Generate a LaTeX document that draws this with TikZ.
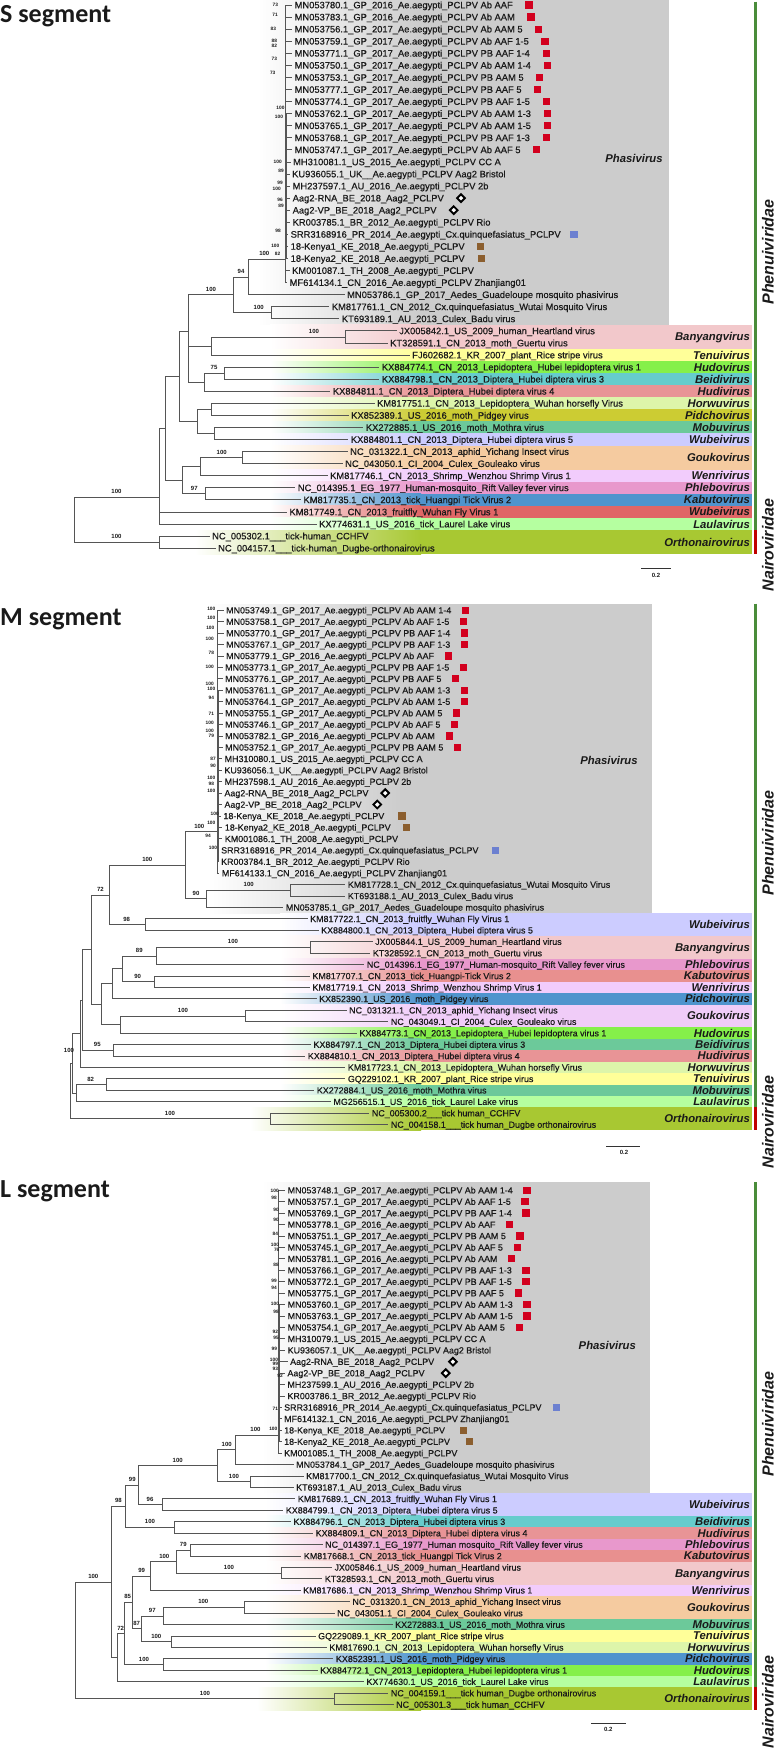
\documentclass[tikz,border=0pt]{standalone}
\usepackage{fontspec}
\setmainfont{Liberation Sans}
\newfontfamily\ttlfont{Carlito}
\newfontfamily\leaffont[FakeBold=0.5]{Liberation Sans}
\usetikzlibrary{calc,shapes.geometric}
\definecolor{cPhasi}{HTML}{CCCCCC}
\definecolor{cBany}{HTML}{F2C8CB}
\definecolor{cTenui}{HTML}{FFFF99}
\definecolor{cHudo}{HTML}{85F04A}
\definecolor{cBeidiT}{HTML}{66CCCC}
\definecolor{cHudi}{HTML}{E89496}
\definecolor{cHorwu}{HTML}{DDF5AA}
\definecolor{cPidY}{HTML}{CCCC33}
\definecolor{cPidB}{HTML}{4F94CD}
\definecolor{cMobu}{HTML}{6CC99A}
\definecolor{cWubL}{HTML}{CCCCFF}
\definecolor{cWubR}{HTML}{E06666}
\definecolor{cGoukoP}{HTML}{F5CBA0}
\definecolor{cGoukoV}{HTML}{F0CCF8}
\definecolor{cWenri}{HTML}{F2CCFC}
\definecolor{cPhlebo}{HTML}{E898CC}
\definecolor{cKabuB}{HTML}{4F94CD}
\definecolor{cKabuS}{HTML}{E8908F}
\definecolor{cLaula}{HTML}{B5FFA0}
\definecolor{cOrtho}{HTML}{A8C832}
\definecolor{treeC}{HTML}{555555}
\definecolor{txtC}{HTML}{1A1A1A}
\definecolor{mkRed}{HTML}{D2001E}
\definecolor{mkBlue}{HTML}{6C80D0}
\definecolor{mkBrown}{HTML}{8B5E2E}
\definecolor{famGreen}{HTML}{4A8C3A}
\definecolor{famRed}{HTML}{C00000}
\newcounter{bsc}
\newcommand\fS{\leaffont\fontsize{9.34}{10}\selectfont}
\newcommand\fM{\leaffont\fontsize{8.9}{10}\selectfont}
\tikzset{
 tr/.style={draw=treeC, line width=0.8pt},
 lfS/.style={anchor=west, inner xsep=2.5pt, inner ysep=0pt, text height=6.9pt, text depth=0.3pt, font=\fS, text=txtC},
 lfM/.style={anchor=west, inner xsep=2.5pt, inner ysep=0pt, text height=6.6pt, text depth=0.2pt, font=\fM, text=txtC},
 bsl/.style={font=\fontsize{6}{6}\selectfont\bfseries, inner sep=0pt, text=txtC},
 bst/.style={font=\fontsize{4.8}{5}\selectfont\bfseries, inner sep=0pt, text=txtC},
 gen/.style={anchor=east, inner sep=0pt, text height=8pt, text depth=0pt, font=\fontsize{11.3}{12}\selectfont\bfseries\itshape, text=txtC},
 phas/.style={inner sep=0pt, font=\fontsize{11.3}{12}\selectfont\bfseries\itshape, text=txtC},
 fam/.style={rotate=90, inner sep=0pt, font=\fontsize{16}{18}\selectfont\bfseries\itshape, text=txtC},
 ttl/.style={anchor=base west, inner sep=0pt, font=\ttlfont\fontsize{26}{28}\selectfont\bfseries, text=txtC},
 rsq/.style={fill=mkRed, minimum size=7.2pt, inner sep=0pt},
 bsq/.style={fill=mkBlue, minimum size=7.2pt, inner sep=0pt},
 nsq/.style={fill=mkBrown, minimum size=7.2pt, inner sep=0pt},
 dmk/.style={diamond, draw=black, line width=1.9pt, fill=white, minimum width=8.5pt, minimum height=8.5pt, inner sep=0pt},
 sbar/.style={draw=black!80, line width=0.9pt},
 sbt/.style={font=\fontsize{6}{6}\selectfont\bfseries, inner sep=0pt, text=txtC},
 famG/.style={draw=famGreen, line width=2.6pt},
 famR/.style={draw=famRed, line width=2.6pt},
 thk/.style={draw=treeC, line width=1.6pt},
}
\newcommand\lS[3]{\node[lfS] (s#2) at ({#1-2.5},{5+12.07*#2}) {#3};}
\newcommand\lM[3]{\node[lfM] (m#2) at ({#1-2.5},{610.2+11.43*#2}) {#3};}
\newcommand\lL[3]{\node[lfM] (l#2) at ({#1-2.5},{1190.2+11.43*#2}) {#3};}
\newcommand\tn[4]{\path let \p1=(#3), \p2=(#4) in ({#2pt},{0.5*\y1+0.5*\y2}) coordinate (#1);}
\newcommand\ed[2]{\draw[tr] (#1) |- (#2);}
\newcommand\bs[3]{\stepcounter{bsc}\node[bsl] (bs\arabic{bsc}) at (#1,#2) {#3};}
\newcommand\bt[3]{\stepcounter{bsc}\node[bst] (bt\arabic{bsc}) at (#1,#2) {#3};}
\newcommand\mk[3]{\node[#1] (#2mk) at ([xshift=#3pt]#2.east) {};}
\newcommand\band[7]{%
 \pgfmathsetmacro\byt{#1+#2*(#3-0.5)}%
 \pgfmathsetmacro\byb{#1+#2*(#4+0.5)}%
 \pgfmathsetmacro\bym{#1+#2*(#3+#4)/2}%
 \shade[left color=white,right color=#5] (#7,\byt) rectangle (421,\byb);%
 \fill[#5] (420,\byt) rectangle (752,\byb);%
 \stepcounter{bsc}\node[gen] (gn\arabic{bsc}) at (750,\bym) {#6};}
\begin{document}
\begin{tikzpicture}[x=1pt,y=-1pt]
\useasboundingbox (0,0) rectangle (775,1749);
%================= S panel =================
\shade[left color=white,right color=cPhasi] (258,-2) rectangle (421,324.8);
\fill[cPhasi] (420,-2) rectangle (669,324.8);
\band{5}{12.07}{27}{28}{cBany}{Banyangvirus}{270}
\band{5}{12.07}{29}{29}{cTenui}{Tenuivirus}{270}
\band{5}{12.07}{30}{30}{cHudo}{Hudovirus}{270}
\band{5}{12.07}{31}{31}{cBeidiT}{Beidivirus}{270}
\band{5}{12.07}{32}{32}{cHudi}{Hudivirus}{270}
\band{5}{12.07}{33}{33}{cHorwu}{Horwuvirus}{270}
\band{5}{12.07}{34}{34}{cPidY}{Pidchovirus}{270}
\band{5}{12.07}{35}{35}{cMobu}{Mobuvirus}{270}
\band{5}{12.07}{36}{36}{cWubL}{Wubeivirus}{270}
\band{5}{12.07}{37}{38}{cGoukoP}{Goukovirus}{270}
\band{5}{12.07}{39}{39}{cWenri}{Wenrivirus}{270}
\band{5}{12.07}{40}{40}{cPhlebo}{Phlebovirus}{270}
\band{5}{12.07}{41}{41}{cKabuB}{Kabutovirus}{270}
\band{5}{12.07}{42}{42}{cWubR}{Wubeivirus}{270}
\band{5}{12.07}{43}{43}{cLaula}{Laulavirus}{270}
\band{5}{12.07}{44}{45}{cOrtho}{Orthonairovirus}{195}
\node[phas] (phS) at (634,158.7) {Phasivirus};
\node[ttl] (tS) at (0,22) {S segment};
\lS{294.5}{0}{MN053780.1\_GP\_2016\_Ae.aegypti\_PCLPV Ab AAF}
\lS{294.5}{1}{MN053783.1\_GP\_2016\_Ae.aegypti\_PCLPV Ab AAM}
\lS{294.5}{2}{MN053756.1\_GP\_2017\_Ae.aegypti\_PCLPV Ab AAM 5}
\lS{294.5}{3}{MN053759.1\_GP\_2017\_Ae.aegypti\_PCLPV Ab AAF 1-5}
\lS{294.5}{4}{MN053771.1\_GP\_2017\_Ae.aegypti\_PCLPV PB AAF 1-4}
\lS{294.5}{5}{MN053750.1\_GP\_2017\_Ae.aegypti\_PCLPV Ab AAM 1-4}
\lS{294.5}{6}{MN053753.1\_GP\_2017\_Ae.aegypti\_PCLPV PB AAM 5}
\lS{294.5}{7}{MN053777.1\_GP\_2017\_Ae.aegypti\_PCLPV PB AAF 5}
\lS{294.5}{8}{MN053774.1\_GP\_2017\_Ae.aegypti\_PCLPV PB AAF 1-5}
\lS{294.5}{9}{MN053762.1\_GP\_2017\_Ae.aegypti\_PCLPV Ab AAM 1-3}
\lS{294.5}{10}{MN053765.1\_GP\_2017\_Ae.aegypti\_PCLPV Ab AAM 1-5}
\lS{294.5}{11}{MN053768.1\_GP\_2017\_Ae.aegypti\_PCLPV PB AAF 1-3}
\lS{294.5}{12}{MN053747.1\_GP\_2017\_Ae.aegypti\_PCLPV Ab AAF 5}
\lS{293}{13}{MH310081.1\_US\_2015\_Ae.aegypti\_PCLPV CC A}
\lS{292}{14}{KU936055.1\_UK\_\_Ae.aegypti\_PCLPV Aag2 Bristol}
\lS{292.5}{15}{MH237597.1\_AU\_2016\_Ae.aegypti\_PCLPV 2b}
\lS{292.5}{16}{Aag2-RNA\_BE\_2018\_Aag2\_PCLPV}
\lS{292.5}{17}{Aag2-VP\_BE\_2018\_Aag2\_PCLPV}
\lS{292.5}{18}{KR003785.1\_BR\_2012\_Ae.aegypti\_PCLPV Rio}
\lS{290.5}{19}{SRR3168916\_PR\_2014\_Ae.aegypti\_Cx.quinquefasiatus\_PCLPV}
\lS{290.5}{20}{18-Kenya1\_KE\_2018\_Ae.aegypti\_PCLPV}
\lS{290.5}{21}{18-Kenya2\_KE\_2018\_Ae.aegypti\_PCLPV}
\lS{292}{22}{KM001087.1\_TH\_2008\_Ae.aegypti\_PCLPV}
\lS{289.5}{23}{MF614134.1\_CN\_2016\_Ae.aegypti\_PCLPV Zhanjiang01}
\lS{347}{24}{MN053786.1\_GP\_2017\_Aedes\_Guadeloupe mosquito phasivirus}
\lS{331.7}{25}{KM817761.1\_CN\_2012\_Cx.quinquefasiatus\_Wutai Mosquito Virus}
\lS{341.7}{26}{KT693189.1\_AU\_2013\_Culex\_Badu virus}
\lS{399}{27}{JX005842.1\_US\_2009\_human\_Heartland virus}
\lS{390}{28}{KT328591.1\_CN\_2013\_moth\_Guertu virus}
\lS{412}{29}{FJ602682.1\_KR\_2007\_plant\_Rice stripe virus}
\lS{381.7}{30}{KX884774.1\_CN\_2013\_Lepidoptera\_Hubei lepidoptera virus 1}
\lS{381.7}{31}{KX884798.1\_CN\_2013\_Diptera\_Hubei diptera virus 3}
\lS{332.7}{32}{KX884811.1\_CN\_2013\_Diptera\_Hubei diptera virus 4}
\lS{377}{33}{KM817751.1\_CN\_2013\_Lepidoptera\_Wuhan horsefly Virus}
\lS{351}{34}{KX852389.1\_US\_2016\_moth\_Pidgey virus}
\lS{365.7}{35}{KX272885.1\_US\_2016\_moth\_Mothra virus}
\lS{350.7}{36}{KX884801.1\_CN\_2013\_Diptera\_Hubei diptera virus 5}
\lS{350}{37}{NC\_031322.1\_CN\_2013\_aphid\_Yichang Insect virus}
\lS{345}{38}{NC\_043050.1\_CI\_2004\_Culex\_Gouleako virus}
\lS{330}{39}{KM817746.1\_CN\_2013\_Shrimp\_Wenzhou Shrimp Virus 1}
\lS{297.7}{40}{NC\_014395.1\_EG\_1977\_Human-mosquito\_Rift Valley fever virus}
\lS{303.3}{41}{KM817735.1\_CN\_2013\_tick\_Huangpi Tick Virus 2}
\lS{289.3}{42}{KM817749.1\_CN\_2013\_fruitfly\_Wuhan Fly Virus 1}
\lS{319}{43}{KX774631.1\_US\_2016\_tick\_Laurel Lake virus}
\lS{212}{44}{NC\_005302.1\_\_\_tick-human\_CCHFV}
\lS{218}{45}{NC\_004157.1\_\_\_tick-human\_Dugbe-orthonairovirus}
% S tree
\coordinate (sCx) at (285,0);
\coordinate (sCx2) at (286.6,0);
\coordinate (sPc) at (285,259.3);
\draw[tr] (s0.west -| sCx) -- (s23.west -| sCx);
\draw[thk] (s9.west -| sCx2) -- (s21.west -| sCx2);
\foreach \i in {0,...,23} {\draw[tr] (s\i.west -| sCx) -- (s\i.west);}
\tn{sQ}{248.3}{sPc}{s24.west}
\tn{sS}{271}{s25.west}{s26.west}
\tn{sR1}{233.3}{sQ}{sS}
\tn{sBan}{345}{s27.west}{s28.west}
\tn{sU}{211.7}{sBan}{s29.west}
\tn{sX}{224}{s30.west}{s31.west}
\tn{sV}{204}{sX}{s32.west}
\coordinate (sT) at (188.3,331);
\tn{sY1}{211.7}{s33.west}{s34.west}
\tn{sY2}{214}{s35.west}{s36.west}
\tn{sY}{197.3}{sY1}{sY2}
\tn{sW}{179}{sT}{sY}
\tn{sGo}{242.7}{s37.west}{s38.west}
\tn{sH}{200}{sGo}{s39.west}
\tn{sI}{205.7}{s40.west}{s41.west}
\tn{sG}{182.7}{sH}{sI}
\tn{sZ}{165.3}{sW}{sG}
\coordinate (sA) at (159,497);
\tn{sN}{159.3}{s44.west}{s45.west}
\tn{sRoot}{74}{sA}{sN}
\ed{sQ}{sPc}\ed{sQ}{s24.west}
\ed{sS}{s25.west}\ed{sS}{s26.west}
\ed{sR1}{sQ}\ed{sR1}{sS}
\ed{sBan}{s27.west}\ed{sBan}{s28.west}
\ed{sU}{sBan}\ed{sU}{s29.west}
\ed{sX}{s30.west}\ed{sX}{s31.west}
\ed{sV}{sX}\ed{sV}{s32.west}
\ed{sT}{sR1}\ed{sT}{sU}\ed{sT}{sV}
\ed{sY1}{s33.west}\ed{sY1}{s34.west}
\ed{sY2}{s35.west}\ed{sY2}{s36.west}
\ed{sY}{sY1}\ed{sY}{sY2}
\ed{sW}{sT}\ed{sW}{sY}
\ed{sGo}{s37.west}\ed{sGo}{s38.west}
\ed{sH}{sGo}\ed{sH}{s39.west}
\ed{sI}{s40.west}\ed{sI}{s41.west}
\ed{sG}{sH}\ed{sG}{sI}
\ed{sZ}{sW}\ed{sZ}{sG}
\ed{sA}{sZ}\ed{sA}{s42.west}\ed{sA}{s43.west}
\ed{sN}{s44.west}\ed{sN}{s45.west}
\ed{sRoot}{sA}\ed{sRoot}{sN}
% S support values
\bs{116.5}{491.5}{100}\bs{116.5}{536.6}{100}\bs{211}{289.4}{100}\bs{241}{271.3}{94}
\bs{264.3}{253.8}{100}\bs{258.7}{307.5}{100}\bs{314}{331.4}{100}\bs{214}{367.5}{75}
\bs{221.7}{452}{100}\bs{194.3}{488.3}{97}
\bt{275.3}{5.2}{73}\bt{275}{14.8}{71}\bt{273.3}{28.9}{83}\bt{274.3}{40.7}{88}\bt{274.3}{46.3}{82}
\bt{274.3}{59.3}{73}\bt{272.7}{73.3}{73}\bt{280.5}{107.4}{100}\bt{279}{116.7}{100}\bt{277.7}{162.2}{100}
\bt{281}{171.1}{89}\bt{280}{182.6}{99}\bt{276.7}{188.9}{100}\bt{280}{200}{96}\bt{281}{205.6}{89}
\bt{278}{230.4}{98}\bt{275.3}{246.3}{100}\bt{277.5}{254}{82}
% S markers
\foreach \i in {0,...,12} {\mk{rsq}{s\i}{13.5}}
\mk{dmk}{s16}{14.5}\mk{dmk}{s17}{14.5}\mk{bsq}{s19}{10.5}\mk{nsq}{s20}{13}\mk{nsq}{s21}{14.5}
% S family bars, labels, scale
\coordinate (fgS1) at (755.5,1.5);\coordinate (fgS2) at (755.5,530);\coordinate (frS2) at (755.5,554);
\draw[famG] (fgS1) -- (fgS2);\draw[famR] (fgS2) -- (frS2);
\node[fam] (fpS) at (768,252) {Phenuiviridae};
\node[fam] (fnS) at (768,545) {Nairoviridae};
\coordinate (scS1) at (641,568.7);\coordinate (scS2) at (671,568.7);
\draw[sbar] (scS1) -- (scS2);
\node[sbt] (scSt) at (656,575.5) {0.2};
%================= M panel =================
\shade[left color=white,right color=cPhasi] (208,604.2) rectangle (401,913.1);
\fill[cPhasi] (400,604.2) rectangle (651.7,913.1);
\band{610.2}{11.43}{27}{28}{cWubL}{Wubeivirus}{280}
\band{610.2}{11.43}{29}{30}{cBany}{Banyangvirus}{280}
\band{610.2}{11.43}{31}{31}{cPhlebo}{Phlebovirus}{280}
\band{610.2}{11.43}{32}{32}{cKabuS}{Kabutovirus}{280}
\band{610.2}{11.43}{33}{33}{cWenri}{Wenrivirus}{280}
\band{610.2}{11.43}{34}{34}{cPidB}{Pidchovirus}{280}
\band{610.2}{11.43}{35}{36}{cGoukoV}{Goukovirus}{280}
\band{610.2}{11.43}{37}{37}{cHudo}{Hudovirus}{280}
\band{610.2}{11.43}{38}{38}{cMobu}{Beidivirus}{280}
\band{610.2}{11.43}{39}{39}{cHudi}{Hudivirus}{280}
\band{610.2}{11.43}{40}{40}{cHorwu}{Horwuvirus}{280}
\band{610.2}{11.43}{41}{41}{cTenui}{Tenuivirus}{280}
\band{610.2}{11.43}{42}{42}{cMobu}{Mobuvirus}{280}
\band{610.2}{11.43}{43}{43}{cLaula}{Laulavirus}{280}
\band{610.2}{11.43}{44}{45}{cOrtho}{Orthonairovirus}{250}
\node[phas] (phM) at (609,760.3) {Phasivirus};
\node[ttl] (tM) at (0,625.5) {M segment};
\lM{226}{0}{MN053749.1\_GP\_2017\_Ae.aegypti\_PCLPV Ab AAM 1-4}
\lM{226}{1}{MN053758.1\_GP\_2017\_Ae.aegypti\_PCLPV Ab AAF 1-5}
\lM{226}{2}{MN053770.1\_GP\_2017\_Ae.aegypti\_PCLPV PB AAF 1-4}
\lM{226}{3}{MN053767.1\_GP\_2017\_Ae.aegypti\_PCLPV PB AAF 1-3}
\lM{226}{4}{MN053779.1\_GP\_2016\_Ae.aegypti\_PCLPV Ab AAF}
\lM{225}{5}{MN053773.1\_GP\_2017\_Ae.aegypti\_PCLPV PB AAF 1-5}
\lM{225}{6}{MN053776.1\_GP\_2017\_Ae.aegypti\_PCLPV PB AAF 5}
\lM{225}{7}{MN053761.1\_GP\_2017\_Ae.aegypti\_PCLPV Ab AAM 1-3}
\lM{225}{8}{MN053764.1\_GP\_2017\_Ae.aegypti\_PCLPV Ab AAM 1-5}
\lM{225}{9}{MN053755.1\_GP\_2017\_Ae.aegypti\_PCLPV Ab AAM 5}
\lM{225}{10}{MN053746.1\_GP\_2017\_Ae.aegypti\_PCLPV Ab AAF 5}
\lM{225}{11}{MN053782.1\_GP\_2016\_Ae.aegypti\_PCLPV Ab AAM}
\lM{225}{12}{MN053752.1\_GP\_2017\_Ae.aegypti\_PCLPV PB AAM 5}
\lM{224.5}{13}{MH310080.1\_US\_2015\_Ae.aegypti\_PCLPV CC A}
\lM{224.3}{14}{KU936056.1\_UK\_\_Ae.aegypti\_PCLPV Aag2 Bristol}
\lM{224.5}{15}{MH237598.1\_AU\_2016\_Ae.aegypti\_PCLPV 2b}
\lM{224.3}{16}{Aag2-RNA\_BE\_2018\_Aag2\_PCLPV}
\lM{224.3}{17}{Aag2-VP\_BE\_2018\_Aag2\_PCLPV}
\lM{223.3}{18}{18-Kenya\_KE\_2018\_Ae.aegypti\_PCLPV}
\lM{224.7}{19}{18-Kenya2\_KE\_2018\_Ae.aegypti\_PCLPV}
\lM{224.7}{20}{KM001086.1\_TH\_2008\_Ae.aegypti\_PCLPV}
\lM{221}{21}{SRR3168916\_PR\_2014\_Ae.aegypti\_Cx.quinquefasiatus\_PCLPV}
\lM{221}{22}{KR003784.1\_BR\_2012\_Ae.aegypti\_PCLPV Rio}
\lM{221.7}{23}{MF614133.1\_CN\_2016\_Ae.aegypti\_PCLPV Zhanjiang01}
\lM{347.7}{24}{KM817728.1\_CN\_2012\_Cx.quinquefasiatus\_Wutai Mosquito Virus}
\lM{347.7}{25}{KT693188.1\_AU\_2013\_Culex\_Badu virus}
\lM{285.7}{26}{MN053785.1\_GP\_2017\_Aedes\_Guadeloupe mosquito phasivirus}
\lM{310}{27}{KM817722.1\_CN\_2013\_fruitfly\_Wuhan Fly Virus 1}
\lM{321}{28}{KX884800.1\_CN\_2013\_Diptera\_Hubei diptera virus 5}
\lM{375}{29}{JX005844.1\_US\_2009\_human\_Heartland virus}
\lM{372.7}{30}{KT328592.1\_CN\_2013\_moth\_Guertu virus}
\lM{366.7}{31}{NC\_014396.1\_EG\_1977\_Human-mosquito\_Rift Valley fever virus}
\lM{312.3}{32}{KM817707.1\_CN\_2013\_tick\_Huangpi-Tick Virus 2}
\lM{312.3}{33}{KM817719.1\_CN\_2013\_Shrimp\_Wenzhou Shrimp Virus 1}
\lM{319}{34}{KX852390.1\_US\_2016\_moth\_Pidgey virus}
\lM{349}{35}{NC\_031321.1\_CN\_2013\_aphid\_Yichang Insect virus}
\lM{390.7}{36}{NC\_043049.1\_CI\_2004\_Culex\_Gouleako virus}
\lM{359.3}{37}{KX884773.1\_CN\_2013\_Lepidoptera\_Hubei lepidoptera virus 1}
\lM{313.3}{38}{KX884797.1\_CN\_2013\_Diptera\_Hubei diptera virus 3}
\lM{307.7}{39}{KX884810.1\_CN\_2013\_Diptera\_Hubei diptera virus 4}
\lM{347.7}{40}{KM817723.1\_CN\_2013\_Lepidoptera\_Wuhan horsefly Virus}
\lM{347.7}{41}{GQ229102.1\_KR\_2007\_plant\_Rice stripe virus}
\lM{316.7}{42}{KX272884.1\_US\_2016\_moth\_Mothra virus}
\lM{333.3}{43}{MG256515.1\_US\_2016\_tick\_Laurel Lake virus}
\lM{371.7}{44}{NC\_005300.2\_\_\_tick human\_CCHFV}
\lM{390.7}{45}{NC\_004158.1\_\_\_tick human\_Dugbe orthonairovirus}
% M tree
\coordinate (mCx) at (217,0);
\coordinate (mCx2) at (218.6,0);
\coordinate (mPc) at (217,831.7);
\draw[tr] (m0.west -| mCx) -- (m23.west -| mCx);
\draw[thk] (m7.west -| mCx2) -- (m22.west -| mCx2);
\foreach \i in {0,...,23} {\draw[tr] (m\i.west -| mCx) -- (m\i.west);}
\tn{mWu}{290}{m24.west}{m25.west}
\tn{m90}{206.7}{mWu}{m26.west}
\tn{mQ}{185}{mPc}{m90}
\tn{m98}{145}{m27.west}{m28.west}
\tn{mR}{109.3}{mQ}{m98}
\tn{mBan}{310}{m29.west}{m30.west}
\tn{m89}{156.7}{mBan}{m31.west}
\tn{m90b}{154.3}{m32.west}{m33.west}
\tn{mA1}{122}{m89}{m90b}
\tn{mA2}{112.7}{mA1}{m34.west}
\tn{mGo}{245}{m35.west}{m36.west}
\tn{mB1}{120.7}{mGo}{m37.west}
\tn{mT}{101}{mA2}{mB1}
\tn{mS}{91.7}{mR}{mT}
\tn{m95}{113.3}{m38.west}{m39.west}
\tn{mN1}{82.7}{mS}{m95}
\tn{mN2}{80.7}{mN1}{m40.west}
\tn{m82}{106}{m41.west}{m42.west}
\tn{mN3}{76}{m82}{m43.west}
\tn{mN4}{72}{mN2}{mN3}
\tn{mNa}{270.7}{m44.west}{m45.west}
\tn{mRoot}{70}{mN4}{mNa}
\ed{mWu}{m24.west}\ed{mWu}{m25.west}
\ed{m90}{mWu}\ed{m90}{m26.west}
\ed{mQ}{mPc}\ed{mQ}{m90}
\ed{m98}{m27.west}\ed{m98}{m28.west}
\ed{mR}{mQ}\ed{mR}{m98}
\ed{mBan}{m29.west}\ed{mBan}{m30.west}
\ed{m89}{mBan}\ed{m89}{m31.west}
\ed{m90b}{m32.west}\ed{m90b}{m33.west}
\ed{mA1}{m89}\ed{mA1}{m90b}
\ed{mA2}{mA1}\ed{mA2}{m34.west}
\ed{mGo}{m35.west}\ed{mGo}{m36.west}
\ed{mB1}{mGo}\ed{mB1}{m37.west}
\ed{mT}{mA2}\ed{mT}{mB1}
\ed{mS}{mR}\ed{mS}{mT}
\ed{m95}{m38.west}\ed{m95}{m39.west}
\ed{mN1}{mS}\ed{mN1}{m95}
\ed{mN2}{mN1}\ed{mN2}{m40.west}
\ed{m82}{m41.west}\ed{m82}{m42.west}
\ed{mN3}{m82}\ed{mN3}{m43.west}
\ed{mN4}{mN2}\ed{mN4}{mN3}
\ed{mNa}{m44.west}\ed{mNa}{m45.west}
\ed{mRoot}{mN4}\ed{mRoot}{mNa}
% M support values
\bs{147.3}{859.8}{100}\bs{100.5}{889.4}{72}\bs{126.7}{919}{98}\bs{199.3}{826.2}{100}
\bs{196}{893.3}{90}\bs{248.7}{884.7}{100}\bs{139.3}{950.5}{89}\bs{233}{941.9}{100}
\bs{137.7}{976.2}{90}\bs{183}{1010.4}{100}\bs{97.3}{1044.7}{95}\bs{90.7}{1079}{82}
\bs{69}{1050}{100}\bs{170}{1113.3}{100}
\bt{211.3}{608.9}{100}\bt{211.3}{618.1}{100}\bt{210.3}{628.1}{100}\bt{209.7}{638.5}{100}
\bt{211.3}{653}{78}\bt{209.7}{667}{100}\bt{209.7}{683.7}{100}\bt{211.3}{689.3}{100}
\bt{211.3}{697.4}{94}\bt{211.3}{714}{71}\bt{209.7}{723.3}{100}\bt{209.7}{730.7}{100}
\bt{211.3}{735.6}{79}\bt{213}{758.5}{87}\bt{213}{765.9}{90}\bt{211.3}{778.1}{100}
\bt{211.3}{784}{98}\bt{211.3}{791.1}{100}\bt{214.7}{814.1}{100}\bt{211.3}{822.6}{100}
\bt{208}{835.6}{94}\bt{213}{847.4}{100}
% M markers
\foreach \i in {0,...,12} {\mk{rsq}{m\i}{11.5}}
\mk{dmk}{m16}{14}\mk{dmk}{m17}{13}\mk{nsq}{m18}{15}\mk{nsq}{m19}{13.5}\mk{bsq}{m21}{14}
% M family
\coordinate (fgM1) at (755.5,603.5);\coordinate (fgM2) at (755.5,1107.4);\coordinate (frM2) at (755.5,1130.2);
\draw[famG] (fgM1) -- (fgM2);\draw[famR] (fgM2) -- (frM2);
\node[fam] (fpM) at (768,843) {Phenuiviridae};
\node[fam] (fnM) at (768,1122) {Nairoviridae};
\coordinate (scM1) at (606,1146.7);\coordinate (scM2) at (640,1146.7);
\draw[sbar] (scM1) -- (scM2);
\node[sbt] (scMt) at (624,1152.7) {0.2};
%================= L panel =================
\shade[left color=white,right color=cPhasi] (262,1182) rectangle (421,1493.1);
\fill[cPhasi] (420,1182) rectangle (650,1493.1);
\band{1190.2}{11.43}{27}{28}{cWubL}{Wubeivirus}{265}
\band{1190.2}{11.43}{29}{29}{cBeidiT}{Beidivirus}{265}
\band{1190.2}{11.43}{30}{30}{cHudi}{Hudivirus}{265}
\band{1190.2}{11.43}{31}{31}{cPhlebo}{Phlebovirus}{265}
\band{1190.2}{11.43}{32}{32}{cKabuS}{Kabutovirus}{265}
\band{1190.2}{11.43}{33}{34}{cBany}{Banyangvirus}{265}
\band{1190.2}{11.43}{35}{35}{cWenri}{Wenrivirus}{265}
\band{1190.2}{11.43}{36}{37}{cGoukoP}{Goukovirus}{265}
\band{1190.2}{11.43}{38}{38}{cMobu}{Mobuvirus}{265}
\band{1190.2}{11.43}{39}{39}{cTenui}{Tenuivirus}{265}
\band{1190.2}{11.43}{40}{40}{cHorwu}{Horwuvirus}{265}
\band{1190.2}{11.43}{41}{41}{cPidB}{Pidchovirus}{265}
\band{1190.2}{11.43}{42}{42}{cHudo}{Hudovirus}{265}
\band{1190.2}{11.43}{43}{43}{cLaula}{Laulavirus}{265}
\band{1190.2}{11.43}{44}{45}{cOrtho}{Orthonairovirus}{257}
\node[phas] (phL) at (607.3,1345) {Phasivirus};
\node[ttl] (tL) at (0,1197) {L segment};
\lL{287.5}{0}{MN053748.1\_GP\_2017\_Ae.aegypti\_PCLPV Ab AAM 1-4}
\lL{287.5}{1}{MN053757.1\_GP\_2017\_Ae.aegypti\_PCLPV Ab AAF 1-5}
\lL{287.5}{2}{MN053769.1\_GP\_2017\_Ae.aegypti\_PCLPV PB AAF 1-4}
\lL{287.5}{3}{MN053778.1\_GP\_2016\_Ae.aegypti\_PCLPV Ab AAF}
\lL{287.5}{4}{MN053751.1\_GP\_2017\_Ae.aegypti\_PCLPV PB AAM 5}
\lL{287.5}{5}{MN053745.1\_GP\_2017\_Ae.aegypti\_PCLPV Ab AAF 5}
\lL{287.5}{6}{MN053781.1\_GP\_2016\_Ae.aegypti\_PCLPV Ab AAM}
\lL{287.5}{7}{MN053766.1\_GP\_2017\_Ae.aegypti\_PCLPV PB AAF 1-3}
\lL{287.5}{8}{MN053772.1\_GP\_2017\_Ae.aegypti\_PCLPV PB AAF 1-5}
\lL{287.5}{9}{MN053775.1\_GP\_2017\_Ae.aegypti\_PCLPV PB AAF 5}
\lL{287.5}{10}{MN053760.1\_GP\_2017\_Ae.aegypti\_PCLPV Ab AAM 1-3}
\lL{287.5}{11}{MN053763.1\_GP\_2017\_Ae.aegypti\_PCLPV Ab AAM 1-5}
\lL{287.5}{12}{MN053754.1\_GP\_2017\_Ae.aegypti\_PCLPV Ab AAM 5}
\lL{287.5}{13}{MH310079.1\_US\_2015\_Ae.aegypti\_PCLPV CC A}
\lL{287.5}{14}{KU936057.1\_UK\_\_Ae.aegypti\_PCLPV Aag2 Bristol}
\lL{290}{15}{Aag2-RNA\_BE\_2018\_Aag2\_PCLPV}
\lL{287.3}{16}{Aag2-VP\_BE\_2018\_Aag2\_PCLPV}
\lL{287.3}{17}{MH237599.1\_AU\_2016\_Ae.aegypti\_PCLPV 2b}
\lL{287.3}{18}{KR003786.1\_BR\_2012\_Ae.aegypti\_PCLPV Rio}
\lL{284}{19}{SRR3168916\_PR\_2014\_Ae.aegypti\_Cx.quinquefasiatus\_PCLPV}
\lL{284}{20}{MF614132.1\_CN\_2016\_Ae.aegypti\_PCLPV Zhanjiang01}
\lL{284}{21}{18-Kenya\_KE\_2018\_Ae.aegypti\_PCLPV}
\lL{284}{22}{18-Kenya2\_KE\_2018\_Ae.aegypti\_PCLPV}
\lL{284}{23}{KM001085.1\_TH\_2008\_Ae.aegypti\_PCLPV}
\lL{296}{24}{MN053784.1\_GP\_2017\_Aedes\_Guadeloupe mosquito phasivirus}
\lL{306}{25}{KM817700.1\_CN\_2012\_Cx.quinquefasiatus\_Wutai Mosquito Virus}
\lL{296}{26}{KT693187.1\_AU\_2013\_Culex\_Badu virus}
\lL{297.7}{27}{KM817689.1\_CN\_2013\_fruitfly\_Wuhan Fly Virus 1}
\lL{285.7}{28}{KX884799.1\_CN\_2013\_Diptera\_Hubei diptera virus 5}
\lL{293.3}{29}{KX884796.1\_CN\_2013\_Diptera\_Hubei diptera virus 3}
\lL{315.5}{30}{KX884809.1\_CN\_2013\_Diptera\_Hubei diptera virus 4}
\lL{325}{31}{NC\_014397.1\_EG\_1977\_Human mosquito\_Rift Valley fever virus}
\lL{303.7}{32}{KM817668.1\_CN\_2013\_tick\_Huangpi Tick Virus 2}
\lL{334.3}{33}{JX005846.1\_US\_2009\_human\_Heartland virus}
\lL{324.7}{34}{KT328593.1\_CN\_2013\_moth\_Guertu virus}
\lL{303}{35}{KM817686.1\_CN\_2013\_Shrimp\_Wenzhou Shrimp Virus 1}
\lL{352.3}{36}{NC\_031320.1\_CN\_2013\_aphid\_Yichang Insect virus}
\lL{337}{37}{NC\_043051.1\_CI\_2004\_Culex\_Gouleako virus}
\lL{395}{38}{KX272883.1\_US\_2016\_moth\_Mothra virus}
\lL{318}{39}{GQ229089.1\_KR\_2007\_plant\_Rice stripe virus}
\lL{329.2}{40}{KM817690.1\_CN\_2013\_Lepidoptera\_Wuhan horsefly Virus}
\lL{335.8}{41}{KX852391.1\_US\_2016\_moth\_Pidgey virus}
\lL{320}{42}{KX884772.1\_CN\_2013\_Lepidoptera\_Hubei lepidoptera virus 1}
\lL{366.3}{43}{KX774630.1\_US\_2016\_tick\_Laurel Lake virus}
\lL{390.7}{44}{NC\_004159.1\_\_\_tick human\_Dugbe orthonairovirus}
\lL{396}{45}{NC\_005301.3\_\_\_tick human\_CCHFV}
% L tree
\coordinate (lCx) at (278,0);
\coordinate (lCx2) at (279.6,0);
\coordinate (lPc) at (278,1435);
\draw[tr] (l0.west -| lCx) -- (l23.west -| lCx);
\draw[thk] (l10.west -| lCx2) -- (l22.west -| lCx2);
\foreach \i in {0,...,23} {\draw[tr] (l\i.west -| lCx) -- (l\i.west);}
\tn{lQ}{235.7}{lPc}{l24.west}
\tn{lWu}{250.7}{l25.west}{l26.west}
\tn{lR}{217.3}{lQ}{lWu}
\tn{l96}{162.7}{l27.west}{l28.west}
\tn{l99a}{138.3}{lR}{l96}
\tn{lBH}{174.3}{l29.west}{l30.west}
\tn{l98}{125.7}{l99a}{lBH}
\tn{l79}{190}{l31.west}{l32.west}
\tn{lBan}{281.7}{l33.west}{l34.west}
\tn{l100a}{176.7}{l79}{lBan}
\tn{l99b}{150.7}{l100a}{l35.west}
\tn{lGo}{244}{l36.west}{l37.west}
\tn{l97}{163.3}{lGo}{l38.west}
\tn{lGK}{171}{l39.west}{l40.west}
\tn{l87}{141.7}{l97}{lGK}
\tn{l85}{132.7}{l99b}{l87}
\tn{lPH}{163.3}{l41.west}{l42.west}
\tn{l72}{124.3}{l85}{lPH}
\tn{lC}{117.3}{l72}{l43.west}
\tn{lB}{111.7}{l98}{lC}
\tn{lNa}{334.3}{l44.west}{l45.west}
\tn{lRoot}{75}{lB}{lNa}
\ed{lQ}{lPc}\ed{lQ}{l24.west}
\ed{lWu}{l25.west}\ed{lWu}{l26.west}
\ed{lR}{lQ}\ed{lR}{lWu}
\ed{l96}{l27.west}\ed{l96}{l28.west}
\ed{l99a}{lR}\ed{l99a}{l96}
\ed{lBH}{l29.west}\ed{lBH}{l30.west}
\ed{l98}{l99a}\ed{l98}{lBH}
\ed{l79}{l31.west}\ed{l79}{l32.west}
\ed{lBan}{l33.west}\ed{lBan}{l34.west}
\ed{l100a}{l79}\ed{l100a}{lBan}
\ed{l99b}{l100a}\ed{l99b}{l35.west}
\ed{lGo}{l36.west}\ed{lGo}{l37.west}
\ed{l97}{lGo}\ed{l97}{l38.west}
\ed{lGK}{l39.west}\ed{lGK}{l40.west}
\ed{l87}{l97}\ed{l87}{lGK}
\ed{l85}{l99b}\ed{l85}{l87}
\ed{lPH}{l41.west}\ed{lPH}{l42.west}
\ed{l72}{l85}\ed{l72}{lPH}
\ed{lC}{l72}\ed{lC}{l43.west}
\ed{lB}{l98}\ed{lB}{lC}
\ed{lNa}{l44.west}\ed{lNa}{l45.west}
\ed{lRoot}{lB}\ed{lRoot}{lNa}
% L support values
\bs{93.3}{1576.5}{100}\bs{205}{1693.3}{100}\bs{118.5}{1500.8}{98}\bs{132.3}{1479.6}{99}
\bs{150}{1499}{96}\bs{177.7}{1460.2}{100}\bs{226.7}{1444.3}{100}\bs{255.5}{1429.5}{100}
\bs{234}{1476.2}{100}\bs{150}{1521.9}{100}\bs{183.3}{1544.7}{79}\bs{164.3}{1556.2}{100}
\bs{141.7}{1570.5}{99}\bs{229}{1567.6}{100}\bs{203.3}{1601.9}{100}\bs{152.3}{1610.5}{97}
\bs{156.3}{1636.2}{100}\bs{136.7}{1623.4}{87}\bs{127.7}{1596.9}{85}\bs{144}{1659}{100}
\bs{120.7}{1628}{72}
\bt{274.7}{1190.9}{100}\bt{274}{1198.3}{98}\bt{276}{1209.4}{90}\bt{276}{1219.8}{90}
\bt{275.3}{1233.5}{84}\bt{275}{1244.6}{100}\bt{276.7}{1249.4}{76}\bt{276}{1265}{88}
\bt{274}{1280.9}{99}\bt{274}{1288.3}{94}\bt{275}{1303.9}{100}\bt{276}{1312}{98}
\bt{275.3}{1331.7}{92}\bt{276}{1338}{95}\bt{274.3}{1349.1}{99}\bt{274}{1359.4}{100}
\bt{275.3}{1363.9}{99}\bt{275.3}{1368.7}{93}\bt{280}{1376.1}{92}\bt{275.3}{1408.7}{71}
\bt{273.3}{1428.7}{100}
% L markers
\foreach \i in {0,...,12} {\mk{rsq}{l\i}{11.5}}
\mk{dmk}{l15}{16}\mk{dmk}{l16}{18.5}\mk{bsq}{l19}{12.5}\mk{nsq}{l21}{16}\mk{nsq}{l22}{16.5}
% L family
\coordinate (fgL1) at (755.5,1182);\coordinate (fgL2) at (755.5,1687.4);\coordinate (frL2) at (755.5,1710.2);
\draw[famG] (fgL1) -- (fgL2);\draw[famR] (fgL2) -- (frL2);
\node[fam] (fpL) at (768,1424) {Phenuiviridae};
\node[fam] (fnL) at (768,1702) {Nairoviridae};
\coordinate (scL1) at (591,1723.3);\coordinate (scL2) at (625.7,1723.3);
\draw[sbar] (scL1) -- (scL2);
\node[sbt] (scLt) at (608.3,1729.3) {0.2};
\end{tikzpicture}
\end{document}
